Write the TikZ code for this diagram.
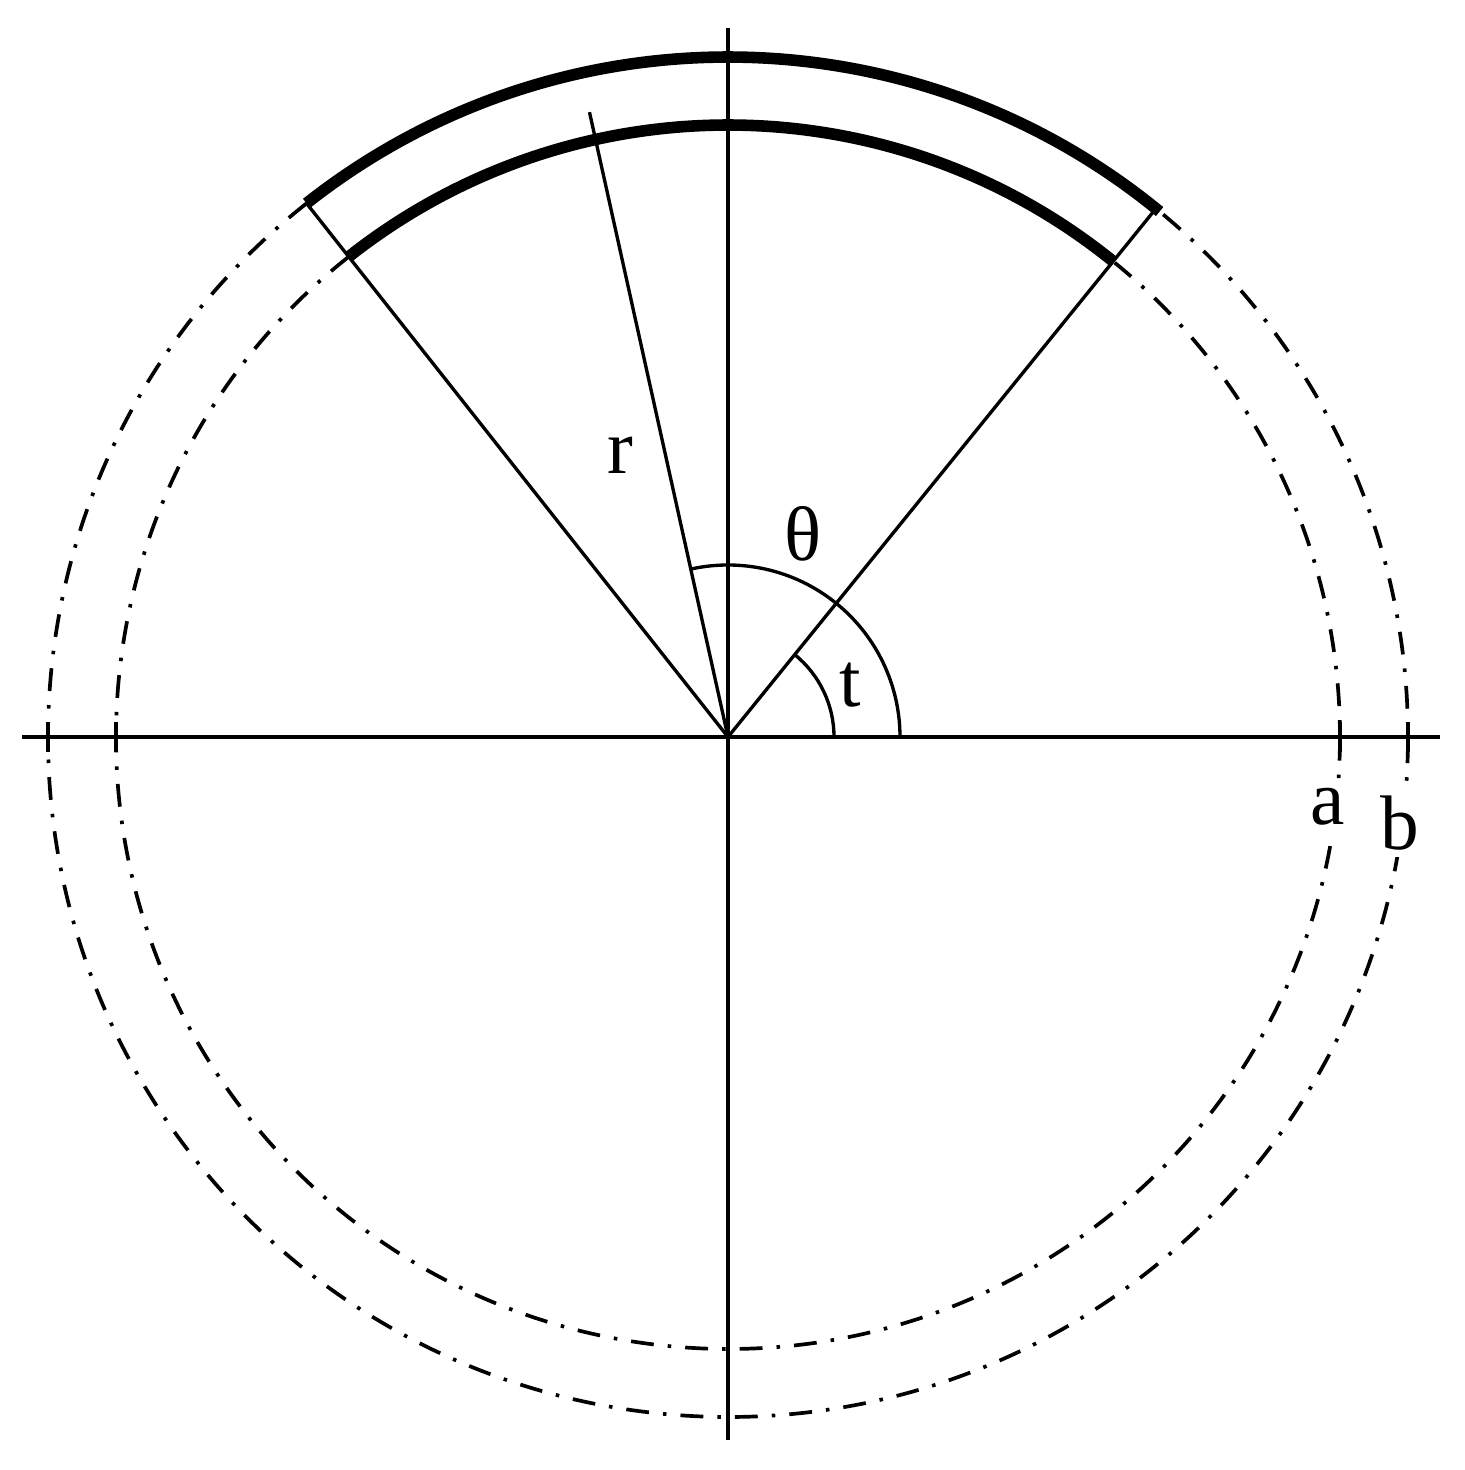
\documentclass[tikz,border=0pt]{standalone}
\usepackage{fontspec}
\setmainfont{Liberation Serif}

\begin{document}
\begin{tikzpicture}[line join = round, line width=0.95pt,
    rim/.style={line width=3.3pt},
    circ/.style={line width=1.05pt, dash pattern=on 6.5pt off 4pt on 1pt off 4pt},
    lbl/.style={font=\fontsize{22}{26}\selectfont, inner sep=0pt}]
    \useasboundingbox (-7.28,-7.33) rectangle (7.36,7.37);
    \def\ra{6.12}
    \def\rb{6.80}
    \coordinate (O) at (0,0);
    % axes
    \coordinate (xl) at (-7.06,0);
    \coordinate (xr) at (7.12,0);
    \coordinate (yb) at (0,-7.03);
    \coordinate (yt) at (0,7.09);
    \draw (xl) -- (xr);
    \draw (yb) -- (yt);
    \foreach \x in {-\rb,-\ra,\ra,\rb}{
        \draw (\x,-0.15) -- (\x,0.15);
    }
    % dash-dot circles
    \draw[circ] (128.3:\ra) arc[start angle=128.3, end angle=410.8, radius=\ra];
    \draw[circ] (128.3:\rb) arc[start angle=128.3, end angle=410.6, radius=\rb];
    % thick arcs
    \draw[rim] (51:\ra) arc[start angle=51, end angle=128.3, radius=\ra];
    \draw[rim] (50.6:\rb) arc[start angle=50.6, end angle=128.3, radius=\rb];
    % radial lines
    \coordinate (pl) at (128.3:\rb);
    \coordinate (pr) at (51:\rb);
    \coordinate (pr2) at (102.5:6.40);
    \draw (O) -- (pl);
    \draw (O) -- (pr);
    \draw (O) -- (pr2);
    % angles
    \draw (1.72,0) arc[start angle=0, end angle=102.5, radius=1.72];
    \draw (1.06,0) arc[start angle=0, end angle=51, radius=1.06];
    \node[lbl] (r) at (-1.08,2.82) {r};
    \node[lbl] (theta) at (0.75,2.03) {θ};
    \node[lbl] (t) at (1.22,0.52) {t};
    \node[lbl, fill=white, inner sep=2pt] (a) at (6.00,-0.70) {a};
    \node[lbl, fill=white, inner sep=2pt] (b) at (6.72,-0.86) {b};
\end{tikzpicture}
\end{document}
